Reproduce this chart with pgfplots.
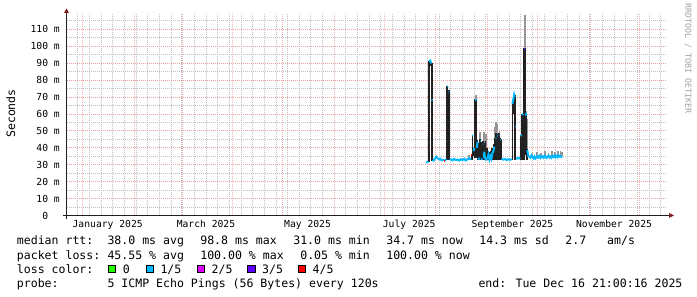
\documentclass[border=0pt]{standalone}
\usepackage{fontspec}
\setmainfont{DejaVu Sans Mono}
\usepackage{pgfplots}
\pgfplotsset{compat=1.18}
\definecolor{mgrid}{RGB}{236,160,160}
\definecolor{mgridx}{RGB}{242,178,178}
\definecolor{mingrid}{RGB}{192,192,192}
\definecolor{arrowred}{RGB}{128,31,31}
\definecolor{axiscol}{RGB}{31,31,31}
\definecolor{wmgray}{RGB}{160,160,160}
\definecolor{lcA}{HTML}{26FF00}
\definecolor{lcB}{HTML}{00B8FF}
\definecolor{lcC}{HTML}{DD00FF}
\definecolor{lcD}{HTML}{5E00FF}
\definecolor{lcE}{HTML}{FF0000}
\definecolor{smokedark}{RGB}{34,34,34}
\definecolor{smokelight}{RGB}{150,150,150}
\newcommand\legfont{\fontsize{11.55}{14}\selectfont}
\newcommand\axfont{\fontsize{9.7}{11}\selectfont}
\begin{document}
\begin{tikzpicture}[x=1pt,y=1pt]
\useasboundingbox (0,0) rectangle (697,297);
\begin{axis}[at={(66.5pt,81.5pt)}, anchor=south west, scale only axis,
  width=600pt, height=202pt,
  xmin=-9.73, xmax=350.5, ymin=0, ymax=119.3,
  axis line style={draw=none},
  unbounded coords=jump,
  xtick={0,31,59,90,120,151,181,212,243,273,304,334},
  xticklabels={},
  minor xtick={-3,4,...,347},
  ytick={0,10,...,110},
  yticklabels={0\phantom{\ m},10 m,20 m,30 m,40 m,50 m,60 m,70 m,80 m,90 m,100 m,110 m},
  minor ytick={5,15,...,115},
  grid=both,
  major grid style={mgrid, line width=0.8pt, dash pattern=on 1pt off 1pt},
  major x grid style={mgridx, line width=0.8pt, dash pattern=on 1pt off 1pt},
  minor grid style={mingrid, line width=0.8pt, dash pattern=on 1pt off 1pt},
  xtick style={draw=none}, ytick style={draw=none},
  minor tick style={draw=none},
  yticklabel style={font=\axfont, anchor=east, inner sep=0pt, xshift=-6.5pt},
  xticklabel style={font=\axfont},
  extra x ticks={15,74,135,196,258,319},
  extra x tick labels={January 2025,March 2025,May 2025,July 2025,September 2025,November 2025},
  extra x tick style={grid=none, tick style={draw=none}, xticklabel style={anchor=base, yshift=-12.5pt, inner sep=0pt}},
]
% light smoke
\addplot[smokelight, line width=1.6pt] coordinates {
(212.5,34) (212.5,36) (212.5,nan)
(231.8,33) (231.8,36) (231.8,nan)
(236.3,60) (236.3,71) (236.3,nan)
(238.6,44) (238.6,49.5) (238.6,nan)
(241.0,43) (241.0,49.5) (241.0,nan)
(242.0,40) (242.0,48) (242.0,nan)
(247.4,46) (247.4,52) (247.4,nan)
(248.2,48) (248.2,55.4) (248.2,nan)
(249.0,48) (249.0,54) (249.0,nan)
(250.2,46) (250.2,50) (250.2,nan)
(263.4,44) (263.4,52) (263.4,nan)
(265.4,98) (265.4,118.4) (265.4,nan)
(266.4,52) (266.4,62) (266.4,nan)
(266.9,39) (266.9,57) (266.9,nan)
(270.0,35) (270.0,37) (270.0,nan)
(272.7,35) (272.7,37.5) (272.7,nan)
(275.2,35) (275.2,37) (275.2,nan)
(277.5,35) (277.5,37.8) (277.5,nan)
(279.6,35) (279.6,37.2) (279.6,nan)
(281.8,35) (281.8,38) (281.8,nan)
(283.5,35) (283.5,37.5) (283.5,nan)
(285.3,35) (285.3,38) (285.3,nan)
(286.8,35) (286.8,38.2) (286.8,nan)
(287.8,35) (287.8,37.5) (287.8,nan)
};
% dark smoke
\addplot[smokedark, line width=1.5pt] coordinates {
(207.9,31.5) (207.9,91.5) (207.9,nan)
(208.4,88) (208.4,92) (208.4,nan)
(209.6,32) (209.6,90) (209.6,nan)
(218.8,33) (218.8,76.5) (218.8,nan)
(219.9,33) (219.9,74) (219.9,nan)
(233.6,33) (233.6,36) (233.6,nan)
(234.0,34) (234.0,47.5) (234.0,nan)
(234.6,35) (234.6,40) (234.6,nan)
(235.6,34) (235.6,68.6) (235.6,nan)
(236.3,34) (236.3,68) (236.3,nan)
(237.0,33) (237.0,44.5) (237.0,nan)
(237.8,33) (237.8,43) (237.8,nan)
(238.6,33) (238.6,45) (238.6,nan)
(239.4,33) (239.4,43.6) (239.4,nan)
(240.2,33) (240.2,44) (240.2,nan)
(241.0,33) (241.0,43) (241.0,nan)
(241.8,33) (241.8,44) (241.8,nan)
(242.6,33) (242.6,40) (242.6,nan)
(243.4,33) (243.4,38) (243.4,nan)
(244.2,33) (244.2,37.7) (244.2,nan)
(245.0,33) (245.0,38) (245.0,nan)
(245.8,33) (245.8,40) (245.8,nan)
(246.6,33) (246.6,42) (246.6,nan)
(247.4,33) (247.4,46) (247.4,nan)
(248.2,33) (248.2,48.7) (248.2,nan)
(249.0,33) (249.0,48) (249.0,nan)
(249.8,33) (249.8,48.7) (249.8,nan)
(250.6,33) (250.6,46) (250.6,nan)
(251.3,33) (251.3,45) (251.3,nan)
(258.0,33) (258.0,66) (258.0,nan)
(258.7,60) (258.7,71.5) (258.7,nan)
(259.5,33) (259.5,71.2) (259.5,nan)
(263.1,33) (263.1,47.5) (263.1,nan)
(263.8,40) (263.8,60) (263.8,nan)
(264.4,33) (264.4,60) (264.4,nan)
(265.0,33) (265.0,98.8) (265.0,nan)
(265.6,36) (265.6,98.8) (265.6,nan)
(266.3,33) (266.3,60.4) (266.3,nan)
(267.0,33) (267.0,39) (267.0,nan)
};
% median rtt, loss 1/5
\addplot[lcB, line width=2pt] coordinates {
(206.1,31.2) (206.8,31.5) (207.6,31.8) (207.7,nan)
(208.0,91.0) (208.6,91.5) (209.3,89.8) (209.4,nan)
(209.55,68.5) (209.85,68) (209.9,nan)
(210.1,32.0) (210.8,32.6) (211.5,33.6) (212.2,34.6) (213.0,34.0) (213.8,33.2) (214.6,33.6) (215.4,32.6) (216.2,32.8) (216.6,32.4) (216.65,nan)
(217.3,32.5) (218.0,33.0) (218.5,33.0) (218.6,nan)
(218.9,76.0) (219.4,76.3) (219.5,nan)
(219.7,73.2) (220.0,73.0) (220.1,nan)
(220.3,33.0) (221.0,33.2) (222.0,32.6) (223.0,33.4) (224.0,32.8) (225.0,33.0) (226.0,32.4) (227.0,33.3) (228.0,32.7) (229.0,33.5) (230.0,32.5) (231.0,33.2) (232.0,33.8) (233.2,33.0) (233.3,nan)
(233.9,47.5) (234.3,47.2) (234.4,nan)
(234.6,38) (235.2,40) (235.3,nan)
(235.6,68) (236.2,68.6) (236.3,nan)
(236.6,40) (237.1,43.6) (237.2,nan)
(237.4,34) (238.2,33) (238.4,nan)
(238.6,44) (238.9,44) (239.0,nan)
(239.2,33) (239.9,33.5) (240.0,nan)
(240.2,42) (240.5,42) (240.6,nan)
(240.8,34) (241.1,37.7) (241.5,34) (242.2,33) (243.0,34) (243.6,36) (244.2,33) (244.8,35) (245.4,33.5) (246.0,37) (246.6,38) (247.1,40.6) (247.5,nan)
(247.9,45.6) (248.4,45.6) (248.5,nan)
(248.9,47) (249.3,47) (249.4,nan)
(249.8,47.5) (250.2,47.5) (250.3,nan)
(250.8,44.6) (251.2,44.6) (251.3,nan)
(251.5,33.5) (252.5,33.0) (253.5,33.4) (254.5,32.8) (255.5,33.2) (256.5,32.9) (257.6,33.3) (257.7,nan)
(258.0,66) (258.6,69) (259.0,71.2) (259.3,70) (259.4,nan)
(259.55,52.5) (259.85,52.5) (259.9,nan)
(260.1,33.8) (260.8,33.6) (261.6,34.0) (262.7,33.5) (262.8,nan)
(263.0,47.5) (263.5,47) (263.6,nan)
(263.9,59.4) (264.4,60) (264.5,nan)
(265.9,60.4) (266.5,59) (266.6,nan)
(266.9,38.7) (267.6,35) (268.2,34.7) (268.8,34.2) (269.4,35.5) (270.0,34.5) (270.6,33.8) (271.2,34.8) (271.8,33.6) (272.4,34.2) (273.0,35.0) (273.6,34.4) (274.2,35.2) (274.8,34.0) (275.4,34.6) (276.0,34.9) (276.6,34.2) (277.2,35.3) (277.8,34.5) (278.4,34.0) (279.0,34.8) (279.6,35.4) (280.2,34.3) (280.8,34.9) (281.4,34.1) (282.0,35.0) (282.6,34.6) (283.2,35.5) (283.8,34.4) (284.4,35.1) (285.0,34.5) (285.6,35.6) (286.2,34.8) (286.8,35.2) (287.4,34.6) (288.0,34.7)
};
% loss 4/5
\addplot[lcE, line width=2pt] coordinates {(216.65,32.3) (217.3,32.3) (217.35,nan) (233.3,35.5) (233.9,35.5)};
% loss 3/5
\addplot[lcD, line width=2pt] coordinates {(264.8,98.2) (265.7,98.2)};
\end{axis}
% axes
\draw[axiscol, line width=1pt] (62.5,81.5) -- (670,81.5);
\fill[arrowred] (669,84) -- (674,81.5) -- (669,79) -- cycle;
\draw[axiscol, line width=1pt] (66.5,78) -- (66.5,284.5);
\fill[arrowred] (64,284) -- (66.5,288.6) -- (69,284) -- cycle;
% labels
\node[rotate=90, font=\legfont, inner sep=0pt] at (10.7,183.5) {Seconds};
\node[rotate=-90, font=\fontsize{8.3}{9}\selectfont, text=wmgray, inner sep=0pt] at (688,238.5) {RRDTOOL / TOBI OETIKER};
% legend
\begin{scope}[every node/.style={anchor=base west, inner sep=0pt, font=\legfont}]
\node at (16.7,52) {median rtt:};
\node at (107.3,52) {38.0 ms avg};
\node at (200.1,52) {98.8 ms max};
\node at (293.1,52) {31.0 ms min};
\node at (386.1,52) {34.7 ms now};
\node at (479.1,52) {14.3 ms sd};
\node at (565.2,52) {2.7};
\node at (607,52) {am/s};
\node at (16.7,37.5) {packet loss:};
\node at (107.3,37.5) {45.55 \% avg};
\node at (200.1,37.5) {100.00 \% max};
\node at (300.1,37.5) {0.05 \% min};
\node at (386.1,37.5) {100.00 \% now};
\node at (16.7,23.6) {loss color:};
\node at (122.7,23.6) {0};
\node at (160.3,23.6) {1/5};
\node at (211.4,23.6) {2/5};
\node at (262.0,23.6) {3/5};
\node at (312.4,23.6) {4/5};
\node at (16.7,9.4) {probe:};
\node at (107.3,9.4) {5 ICMP Echo Pings (56 Bytes) every 120s};
\node at (478.3,9.4) {end: Tue Dec 16 21:00:16 2025};
\end{scope}
\filldraw[fill=lcA, draw=black, line width=0.7pt] (108.3,24.3) rectangle (115.8,31.8);
\filldraw[fill=lcB, draw=black, line width=0.7pt] (145.9,24.3) rectangle (153.4,31.8);
\filldraw[fill=lcC, draw=black, line width=0.7pt] (197.0,24.3) rectangle (204.5,31.8);
\filldraw[fill=lcD, draw=black, line width=0.7pt] (247.6,24.3) rectangle (255.1,31.8);
\filldraw[fill=lcE, draw=black, line width=0.7pt] (298.0,24.3) rectangle (305.5,31.8);
\end{tikzpicture}
\end{document}
